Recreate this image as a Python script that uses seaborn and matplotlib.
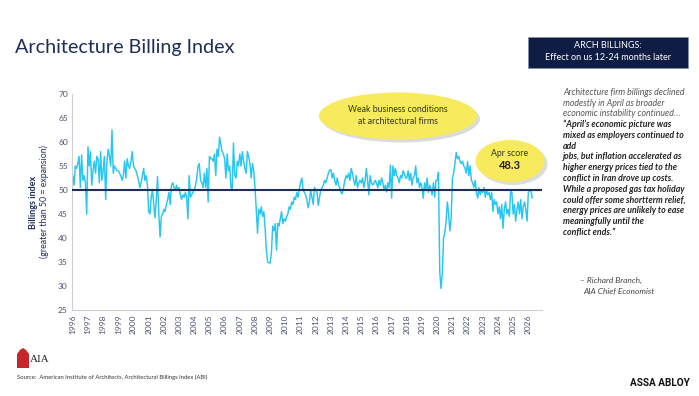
import numpy as np
import pandas as pd
import seaborn as sns
import matplotlib.pyplot as plt
from matplotlib.patches import Ellipse, Rectangle, Polygon

# monthly ABI readings
abi_1996 = [53, 51, 55, 54.5, 55.5, 57, 50.5, 57.3, 52, 53, 51.5, 45]
abi_1997 = [59, 55, 58, 51, 54, 56, 53.5, 57, 56.5, 51.5, 58, 52]
abi_1998 = [54, 57, 48, 56, 58.5, 57, 55, 62.5, 53.5, 55, 54.5, 54]
abi_1999 = [54, 53.5, 53, 52, 53, 56, 52.5, 56.5, 55, 54.5, 56, 58]
abi_2000 = [55, 54.5, 54, 53, 52, 50.5, 51.5, 53, 54.5, 52, 53, 51]
abi_2001 = [45.5, 45, 48.5, 50, 47, 44.2, 48, 52.8, 45, 40.2, 44.5, 45]
abi_2002 = [46, 45.5, 47, 48, 49.5, 47, 51, 51.5, 50.5, 50, 51, 50]
abi_2003 = [50.5, 49, 48, 49, 48.5, 49.5, 48.5, 44, 53, 48.5, 49, 49.5]
abi_2004 = [50, 51, 52.5, 55, 55.5, 52, 51.5, 50.5, 53.5, 50.5, 54.5, 47.5]
abi_2005 = [57, 56.5, 56.5, 56, 57.5, 53, 58.5, 57, 61, 59.5, 58, 57.5]
abi_2006 = [56.5, 52.5, 57.5, 54, 55, 50.5, 50.3, 59.8, 53, 52.5, 56, 55]
abi_2007 = [57.5, 55, 58, 56, 54.5, 53.5, 58, 57, 55.5, 52.5, 55.5, 54]
abi_2008 = [50.5, 46, 41, 46, 45, 46.5, 44.5, 45.5, 42, 37.5, 35, 34.8]
abi_2009 = [34.8, 37, 42.5, 41.5, 43, 37.5, 43, 42.5, 44, 45.5, 43, 44]
abi_2010 = [43.5, 44.5, 45, 46.5, 46, 47.5, 47, 48.5, 48, 49.5, 48.5, 50]
abi_2011 = [51.5, 52.5, 50, 49.5, 49, 48, 46.3, 47.5, 50, 48.5, 47, 50.5]
abi_2012 = [50, 49.5, 46.8, 48.5, 50, 50.5, 51, 52, 51.5, 52.5, 53.5, 54.2]
abi_2013 = [54.2, 52.5, 53.5, 52, 51, 52.5, 51, 50.5, 49.5, 49.2, 50.5, 52]
abi_2014 = [53, 52.5, 53.5, 52, 54.5, 53.5, 52, 51, 53, 50.5, 51.5, 52]
abi_2015 = [51.5, 52.5, 50.5, 52, 54.5, 52, 49, 53, 51.5, 51, 51.5, 52]
abi_2016 = [51.5, 50.5, 52, 51, 52.5, 51.5, 50, 51, 49.6, 51.5, 50.5, 55.2]
abi_2017 = [48.3, 55, 53, 54.5, 53, 52.5, 51.5, 53, 52.5, 54, 53.5, 52.5]
abi_2018 = [52.5, 54, 52, 53.5, 51, 52.5, 53, 55, 51.5, 52.5, 50.5, 51.5]
abi_2019 = [50.5, 48.3, 51.5, 50, 52.5, 49.5, 51, 50, 49, 51.5, 48.5, 52]
abi_2020 = [52, 53.7, 33, 29.5, 32.5, 40, 41, 43.5, 47.5, 45, 41.5, 44]
abi_2021 = [52.5, 53.5, 55.5, 57.8, 56.5, 57, 56, 55.5, 56, 55, 54.5, 53.5]
abi_2022 = [55.9, 53, 55, 52, 51.5, 50.5, 52, 49.5, 48.3, 50.5, 49, 50]
abi_2023 = [49.5, 50.5, 48.5, 50, 49, 49.5, 48, 49.5, 45.5, 48, 47, 47.5]
abi_2024 = [45, 46.5, 44, 47, 42, 46, 47.5, 45, 46, 44.5, 49.7, 49.5]
abi_2025 = [45, 47, 43.5, 46, 47.5, 45, 48, 44, 46.5, 47.5, 46, 43.5]
abi_2026 = [49.5, 50, 50, 48.3]

years = list(range(1996, 2027))
yearly = [abi_1996, abi_1997, abi_1998, abi_1999, abi_2000, abi_2001, abi_2002,
          abi_2003, abi_2004, abi_2005, abi_2006, abi_2007, abi_2008, abi_2009,
          abi_2010, abi_2011, abi_2012, abi_2013, abi_2014, abi_2015, abi_2016,
          abi_2017, abi_2018, abi_2019, abi_2020, abi_2021, abi_2022, abi_2023,
          abi_2024, abi_2025, abi_2026]

rows = []
for yr, vals in zip(years, yearly):
    for m, v in enumerate(vals):
        rows.append((yr + m / 12.0, v))
df = pd.DataFrame(rows, columns=["t", "abi"])

NAVY = "#1f2d5a"
CYAN = "#27c6f3"
YELLOW = "#f7ea5c"
TICK = "#4a5272"

quote_intro = ["Architecture firm billings declined",
               "modestly in April as broader",
               "economic instability continued\u2026"]
quote_body = ["\u201cApril\u2019s economic picture was",
              "mixed as employers continued to",
              "add",
              "jobs, but inflation accelerated as",
              "higher energy prices tied to the",
              "conflict in Iran drove up costs.",
              "While a proposed gas tax holiday",
              "could offer some shortterm relief,",
              "energy prices are unlikely to ease",
              "meaningfully until the",
              "conflict ends.\u201d"]

sns.set_style("white")
plt.rcParams["font.family"] = ["Lato", "DejaVu Sans"]

W, H = 699, 396
fig = plt.figure(figsize=(W / 100, H / 100), dpi=100)

def fx(px):
    return px / W

def fy(py):
    return 1 - py / H

ax = fig.add_axes([fx(72), fy(310), fx(542) - fx(72), fy(94) - fy(310)])
sns.lineplot(data=df, x="t", y="abi", color=CYAN, linewidth=1.05, ax=ax)
ax.axhline(50, color=NAVY, linewidth=1.5, zorder=3)

ax.set_xlim(1995.95, 2026.9)
ax.set_ylim(25, 70)
ax.set_yticks(range(25, 71, 5))
ax.set_xticks(years)
ax.set_xticklabels([str(y) for y in years], rotation=90)
ax.tick_params(axis="both", length=0, labelsize=6, colors=TICK, pad=3)
ax.set_xlabel("")
ax.set_ylabel("")
for s in ["top", "right"]:
    ax.spines[s].set_visible(False)
ax.spines["left"].set_color("#d0d0d0")
ax.spines["bottom"].set_color("#d0d0d0")
ax.spines["left"].set_linewidth(0.8)
ax.spines["bottom"].set_linewidth(0.8)

# y label (two lines)
fig.text(fx(33), fy(202), "Billings index", rotation=90, ha="center", va="center",
         fontsize=6.5, fontweight="bold", color=NAVY)
fig.text(fx(44), fy(202), "(greater than 50 = expansion)", rotation=90, ha="center",
         va="center", fontsize=6.3, color=NAVY)

# title
fig.text(fx(15), fy(47), "Architecture Billing Index", ha="left", va="center",
         fontsize=14.2, color=NAVY)

# navy box top right
fig.patches.append(Rectangle((fx(528), fy(68)), fx(688) - fx(528), fy(37) - fy(68),
                             transform=fig.transFigure, facecolor="#0f1d45",
                             edgecolor="#8090b0", linewidth=0.5))
fig.text(fx(608), fy(46), "ARCH BILLINGS:", ha="center", va="center", fontsize=6.5, color="white")
fig.text(fx(608), fy(58), "Effect on us 12-24 months later", ha="center", va="center",
         fontsize=6.5, color="white")

# yellow callouts
def bubble(cx, cy, w, h):
    fig.patches.append(Ellipse((fx(cx + 3), fy(cy + 3)), fx(w), h / H,
                               transform=fig.transFigure, facecolor="#9a9a9a",
                               alpha=0.35, edgecolor="none", zorder=4))
    fig.patches.append(Ellipse((fx(cx), fy(cy)), fx(w), h / H,
                               transform=fig.transFigure, facecolor=YELLOW,
                               edgecolor="none", zorder=5))

bubble(398, 116, 158, 47)
fig.text(fx(398), fy(110), "Weak business conditions", ha="center", va="center",
         fontsize=6.3, color="#333333", zorder=6)
fig.text(fx(398), fy(122), "at architectural firms", ha="center", va="center",
         fontsize=6.3, color="#333333", zorder=6)

bubble(510, 161, 69, 42)
fig.text(fx(510), fy(154), "Apr score", ha="center", va="center", fontsize=6.3,
         color="#333333", zorder=6)
fig.text(fx(510), fy(166), "48.3", ha="center", va="center", fontsize=8,
         fontweight="bold", color="#222222", zorder=6)

# quote block
y0 = 92.5
step = 10.75
for i, line in enumerate(quote_intro):
    fig.text(fx(563), fy(y0 + i * step), line, ha="left", va="center", fontsize=6.3,
             style="italic", color="#555555")
for j, line in enumerate(quote_body):
    fig.text(fx(563), fy(y0 + (j + 3) * step), line, ha="left", va="center",
             fontsize=6.3, style="italic", fontweight="bold", color="#222222")
fig.text(fx(580), fy(280), "\u2013 Richard Branch,", ha="left", va="center", fontsize=6,
         style="italic", color="#444444")
fig.text(fx(583), fy(291), "AIA Chief Economist", ha="left", va="center", fontsize=6,
         style="italic", color="#444444")

# AIA logo + source + footer
fig.patches.append(Polygon([(fx(17), fy(368)), (fx(17), fy(354)), (fx(20), fy(350)),
                            (fx(23), fy(348)), (fx(26), fy(350)), (fx(29), fy(354)),
                            (fx(29), fy(368))], closed=True, transform=fig.transFigure,
                           facecolor="#c8262c", edgecolor="none"))
fig.text(fx(30), fy(360), "AIA", ha="left", va="center", fontsize=8,
         family=["Liberation Serif", "DejaVu Serif"], color="#222222")
fig.text(fx(17), fy(377), "Source:  American Institute of Architects, Architectural Billings Index (ABI)",
         ha="left", va="center", fontsize=4.2, color="#333333")
fig.text(fx(690), fy(383), "ASSA ABLOY", ha="right", va="center", fontsize=7.2,
         fontweight="bold", color="#111111", family=["Roboto", "DejaVu Sans"])

fig.savefig("out.png", dpi=100)
